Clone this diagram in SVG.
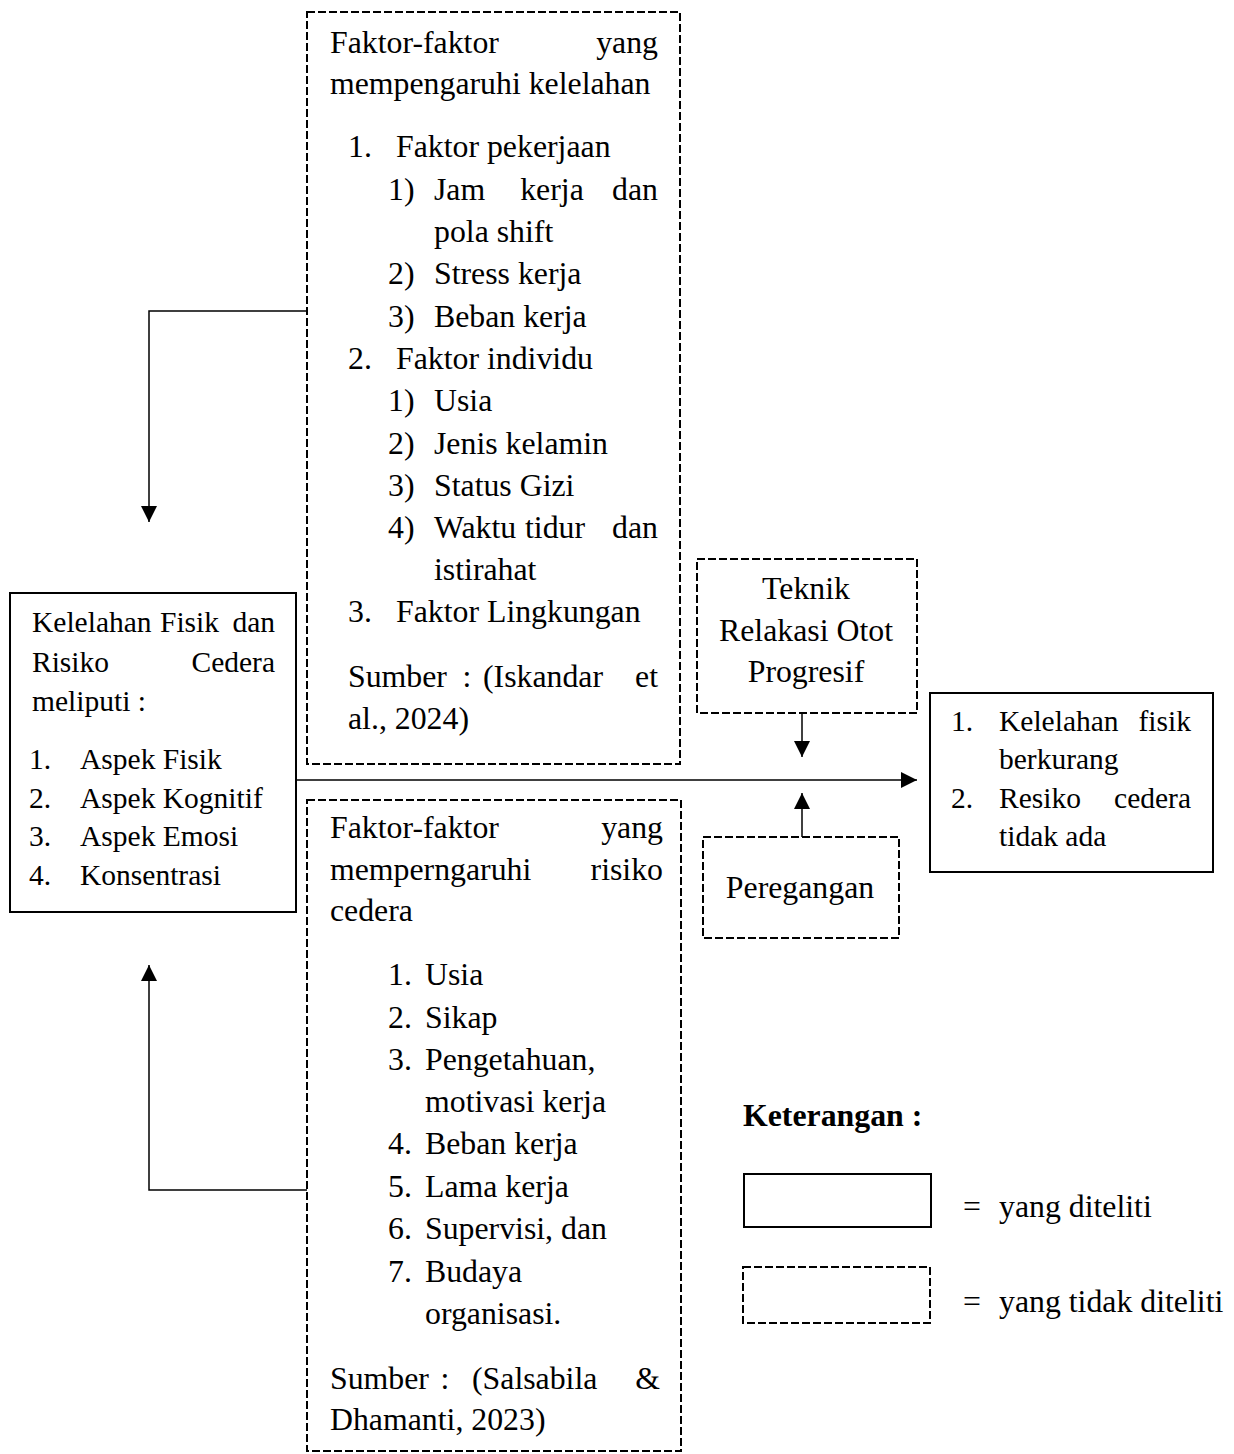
<svg xmlns="http://www.w3.org/2000/svg" width="1234" height="1454" viewBox="0 0 1234 1454">
<style>
text{font-family:"Liberation Serif","Times New Roman",serif;fill:#000}
.t{font-size:31.8px}
.s{font-size:29.5px}
.b{font-weight:bold}
.e{text-anchor:end}
.m{text-anchor:middle}
.solid{fill:#fff;stroke:#000;stroke-width:2}
.dash{fill:#fff;stroke:#000;stroke-width:2;stroke-dasharray:8 3}
.ln{fill:none;stroke:#000;stroke-width:1.5}
</style>
<defs>
<marker id="ah" markerUnits="userSpaceOnUse" markerWidth="16" markerHeight="16" viewBox="0 0 16 16" refX="16" refY="8" orient="auto">
<path d="M0,0 L16,8 L0,16 Z" fill="#000"/>
</marker>
</defs>
<rect width="1234" height="1454" fill="#fff"/>

<g id="connectors">
<polyline class="ln" points="307,311 149,311 149,522" marker-end="url(#ah)"/>
<polyline class="ln" points="307,1190 149,1190 149,965" marker-end="url(#ah)"/>
<line class="ln" x1="296" y1="780" x2="917" y2="780" marker-end="url(#ah)"/>
<line class="ln" x1="802" y1="713" x2="802" y2="757" marker-end="url(#ah)"/>
<line class="ln" x1="802" y1="837" x2="802" y2="793" marker-end="url(#ah)"/>
</g>

<g id="faktor-kelelahan">
<rect class="dash" x="307" y="12" width="373" height="752"/>
<text class="t" x="330" y="53">Faktor-faktor</text>
<text class="t e" x="658" y="53">yang</text>
<text class="t" x="330" y="94">mempengaruhi kelelahan</text>
<text class="t" x="348" y="157">1.</text><text class="t" x="396" y="157">Faktor pekerjaan</text>
<text class="t" x="388" y="200">1)</text><text class="t" x="434" y="200">Jam</text><text class="t m" x="552" y="200">kerja</text><text class="t e" x="658" y="200">dan</text>
<text class="t" x="434" y="242">pola shift</text>
<text class="t" x="388" y="284">2)</text><text class="t" x="434" y="284">Stress kerja</text>
<text class="t" x="388" y="327">3)</text><text class="t" x="434" y="327">Beban kerja</text>
<text class="t" x="348" y="369">2.</text><text class="t" x="396" y="369">Faktor individu</text>
<text class="t" x="388" y="411">1)</text><text class="t" x="434" y="411">Usia</text>
<text class="t" x="388" y="454">2)</text><text class="t" x="434" y="454">Jenis kelamin</text>
<text class="t" x="388" y="496">3)</text><text class="t" x="434" y="496">Status Gizi</text>
<text class="t" x="388" y="538">4)</text><text class="t" x="434" y="538">Waktu</text><text class="t" x="525" y="538">tidur</text><text class="t e" x="658" y="538">dan</text>
<text class="t" x="434" y="580">istirahat</text>
<text class="t" x="348" y="622">3.</text><text class="t" x="396" y="622">Faktor Lingkungan</text>
<text class="t" x="348" y="687">Sumber</text><text class="t m" x="467" y="687">:</text><text class="t" x="483" y="687">(Iskandar</text><text class="t e" x="658" y="687">et</text>
<text class="t" x="348" y="729">al., 2024)</text>
</g>

<g id="faktor-cedera">
<rect class="dash" x="307" y="800" width="374" height="651"/>
<text class="t" x="330" y="838">Faktor-faktor</text>
<text class="t e" x="663" y="838">yang</text>
<text class="t" x="330" y="880">memperngaruhi</text>
<text class="t e" x="663" y="880">risiko</text>
<text class="t" x="330" y="921">cedera</text>
<text class="t" x="388" y="985">1.</text><text class="t" x="425" y="985">Usia</text>
<text class="t" x="388" y="1028">2.</text><text class="t" x="425" y="1028">Sikap</text>
<text class="t" x="388" y="1070">3.</text><text class="t" x="425" y="1070">Pengetahuan,</text>
<text class="t" x="425" y="1112">motivasi kerja</text>
<text class="t" x="388" y="1154">4.</text><text class="t" x="425" y="1154">Beban kerja</text>
<text class="t" x="388" y="1197">5.</text><text class="t" x="425" y="1197">Lama kerja</text>
<text class="t" x="388" y="1239">6.</text><text class="t" x="425" y="1239">Supervisi, dan</text>
<text class="t" x="388" y="1282">7.</text><text class="t" x="425" y="1282">Budaya</text>
<text class="t" x="425" y="1324">organisasi.</text>
<text class="t" x="330" y="1389">Sumber</text><text class="t m" x="445" y="1389">:</text><text class="t" x="472" y="1389">(Salsabila</text><text class="t e" x="660" y="1389">&amp;</text>
<text class="t" x="330" y="1430">Dhamanti, 2023)</text>
</g>

<g id="kelelahan-risiko">
<rect class="solid" x="10" y="593" width="286" height="319"/>
<text class="s" x="32" y="632">Kelelahan</text><text class="s" x="160" y="632">Fisik</text><text class="s e" x="275" y="632">dan</text>
<text class="s" x="32" y="672">Risiko</text><text class="s e" x="275" y="672">Cedera</text>
<text class="s" x="32" y="711">meliputi :</text>
<text class="s" x="29" y="769">1.</text><text class="s" x="80" y="769">Aspek Fisik</text>
<text class="s" x="29" y="808">2.</text><text class="s" x="80" y="808">Aspek Kognitif</text>
<text class="s" x="29" y="846">3.</text><text class="s" x="80" y="846">Aspek Emosi</text>
<text class="s" x="29" y="885">4.</text><text class="s" x="80" y="885">Konsentrasi</text>
</g>

<g id="teknik-relaksasi">
<rect class="dash" x="697" y="559" width="220" height="154"/>
<text class="t m" x="806" y="599">Teknik</text>
<text class="t m" x="806" y="641">Relakasi Otot</text>
<text class="t m" x="806" y="682">Progresif</text>
</g>

<g id="peregangan">
<rect class="dash" x="703" y="837" width="196" height="101"/>
<text class="t m" x="800" y="898">Peregangan</text>
</g>

<g id="hasil">
<rect class="solid" x="930" y="693" width="283" height="179"/>
<text class="s" x="951" y="731">1.</text><text class="s" x="999" y="731">Kelelahan</text><text class="s e" x="1191" y="731">fisik</text>
<text class="s" x="999" y="769">berkurang</text>
<text class="s" x="951" y="808">2.</text><text class="s" x="999" y="808">Resiko</text><text class="s e" x="1191" y="808">cedera</text>
<text class="s" x="999" y="846">tidak ada</text>
</g>

<g id="legend">
<text class="t b" x="743" y="1126">Keterangan :</text>
<rect class="solid" x="744" y="1174" width="187" height="53"/>
<text class="t" x="963" y="1217">=</text><text class="t" x="999" y="1217">yang diteliti</text>
<rect class="dash" x="743" y="1267" width="187" height="56"/>
<text class="t" x="963" y="1312">=</text><text class="t" x="999" y="1312">yang tidak diteliti</text>
</g>
</svg>
